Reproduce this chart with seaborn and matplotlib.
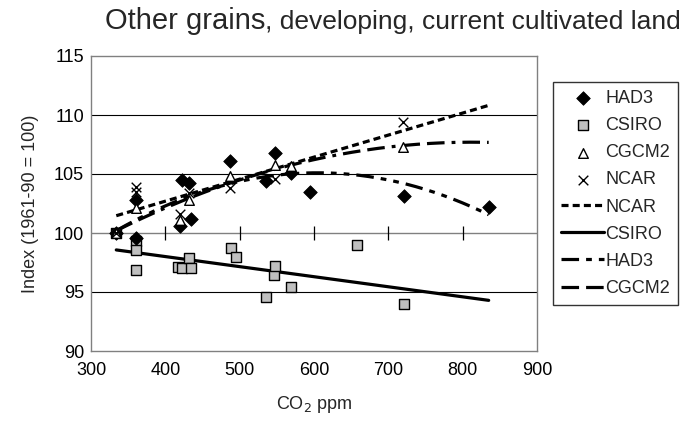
import numpy as np
import pandas as pd
import matplotlib
matplotlib.use("Agg")
import matplotlib.pyplot as plt
import seaborn as sns

sns.set_theme(style="white")
plt.rcParams["font.family"] = ["Liberation Sans", "DejaVu Sans"]

# CO2 (ppm) and yield index for each climate model
had3_co2 = [334, 361, 361, 420, 422, 432, 435, 487, 535, 547, 569, 594, 721, 835]
had3_idx = [100.0, 102.8, 99.6, 100.6, 104.5, 104.2, 101.2, 106.1, 104.4, 106.8, 105.1, 103.5, 103.1, 102.2]

csiro_co2 = [334, 361, 361, 361, 417, 423, 432, 435, 488, 495, 535, 546, 547, 569, 658, 721]
csiro_idx = [100.0, 99.3, 98.6, 96.9, 97.1, 97.0, 97.9, 97.0, 98.7, 98.0, 94.6, 96.4, 97.2, 95.4, 99.0, 94.0]

cgcm2_co2 = [334, 361, 420, 432, 487, 547, 569, 720]
cgcm2_idx = [100.0, 102.1, 101.1, 102.8, 104.8, 105.8, 105.7, 107.3]

ncar_co2 = [334, 361, 361, 420, 432, 487, 547, 720]
ncar_idx = [100.0, 103.9, 103.5, 101.6, 103.4, 103.8, 104.6, 109.4]

trend_range = [334, 835]
x_ticks = [300, 400, 500, 600, 700, 800, 900]
y_ticks = [90, 95, 100, 105, 110, 115]

FS = 13

fig = plt.figure(figsize=(6.87, 4.32), dpi=100)
ax = fig.add_axes([91 / 687, 1 - 351 / 432, (537 - 91) / 687, (351 - 56) / 432])

# horizontal gridlines
for v in y_ticks[1:-1]:
    if v != 100:
        ax.axhline(v, color="black", lw=0.8, zorder=1)
# category axis crossing at 100 with cross tick marks
ax.axhline(100, color="#808080", lw=1.0, zorder=1)
sns.scatterplot(x=x_ticks[1:-1], y=[100] * 5, marker="|", s=100, color="black",
                linewidth=0.9, ax=ax, zorder=2, legend=False)

sns.scatterplot(x=had3_co2, y=had3_idx, marker="D", s=48, color="black",
                edgecolor="black", ax=ax, zorder=5, label="HAD3")
sns.scatterplot(x=csiro_co2, y=csiro_idx, marker="s", s=58, color="#C0C0C0",
                edgecolor="black", linewidth=1.0, ax=ax, zorder=4, label="CSIRO")
sns.scatterplot(x=cgcm2_co2, y=cgcm2_idx, marker="^", s=48, facecolor="white",
                edgecolor="black", linewidth=1.0, ax=ax, zorder=6, label="CGCM2")
sns.scatterplot(x=ncar_co2, y=ncar_idx, marker="x", s=48, color="black",
                linewidth=1.0, ax=ax, zorder=7, label="NCAR")

# fitted trend lines
xs = np.linspace(trend_range[0], trend_range[1], 200)
trend_specs = [
    ("NCAR", ncar_co2, ncar_idx, 1, (2.2, 1.3)),
    ("CSIRO", csiro_co2, csiro_idx, 1, None),
    ("HAD3", had3_co2, had3_idx, 2, (5.5, 2.2, 1.8, 2.2, 1.8, 2.2)),
    ("CGCM2", cgcm2_co2, cgcm2_idx, 2, (5.5, 2.2, 5.5, 2.2, 1.2, 2.2)),
]
for name, cx, cy, deg, dash in trend_specs:
    coef = np.polyfit(cx, cy, deg)
    df = pd.DataFrame({"co2": xs, "idx": np.polyval(coef, xs)})
    sns.lineplot(data=df, x="co2", y="idx", color="black", lw=2.3, ax=ax,
                 zorder=3, label=name)
    line = ax.lines[-1]
    if dash is not None:
        line.set_dashes(dash)
        line.set_dash_capstyle("butt")

ax.set_xlim(300, 900)
ax.set_ylim(90, 115)
ax.set_xticks(x_ticks)
ax.set_yticks(y_ticks)
ax.tick_params(axis="both", length=0, labelsize=FS, colors="black")
ax.tick_params(axis="x", pad=8)
ax.tick_params(axis="y", pad=5)
for s in ax.spines.values():
    s.set_color("#808080")
    s.set_linewidth(1.0)

ax.set_xlabel("CO$_2$ ppm", fontsize=FS, labelpad=11)
ax.set_ylabel("Index (1961-90 = 100)", fontsize=FS, labelpad=11)

leg = ax.legend(loc="upper left", bbox_to_anchor=(553 / 687, 1 - 82 / 432),
                bbox_transform=fig.transFigure, frameon=True, fontsize=FS,
                handlelength=2.4, handletextpad=0.05, labelspacing=0.56,
                borderpad=0.45, borderaxespad=0, fancybox=False)
leg.get_frame().set_edgecolor("black")
leg.get_frame().set_linewidth(1.0)
for h in leg.legend_handles:
    if hasattr(h, "set_linewidth") and not hasattr(h, "get_offsets"):
        h.set_linewidth(2.3)

# two-size title
t1 = fig.text(105 / 687, 1 - 29 / 432, "Other grains", fontsize=21,
              ha="left", va="baseline")
fig.canvas.draw()
bb = t1.get_window_extent()
fig.text(bb.x1 / fig.bbox.width, 1 - 29 / 432, ", developing, current cultivated land",
         fontsize=19, ha="left", va="baseline")

fig.savefig("out.png", dpi=100)
